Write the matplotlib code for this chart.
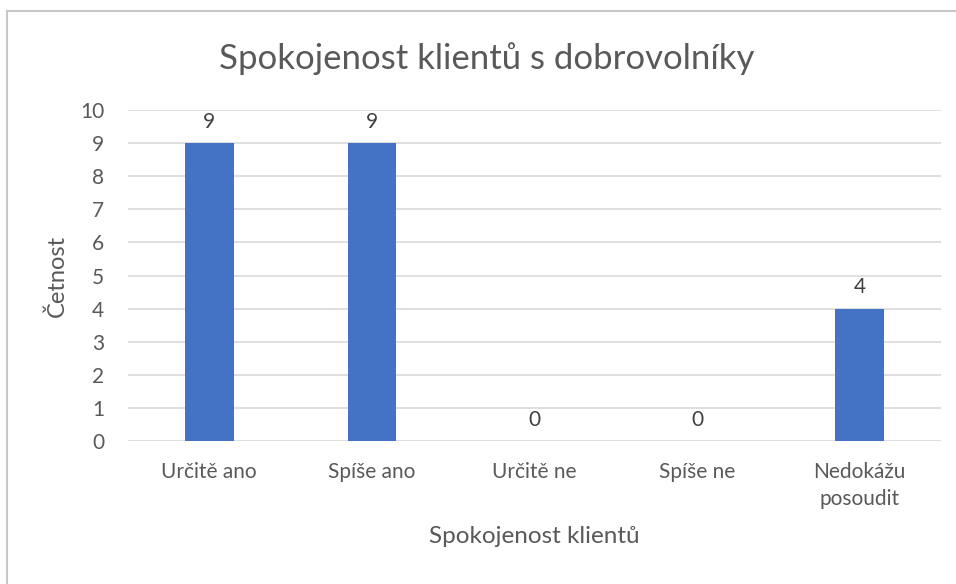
import matplotlib.pyplot as plt

# data
categories = ["Určitě ano", "Spíše ano", "Určitě ne", "Spíše ne", "Nedokážu\nposoudit"]
counts = [9, 9, 0, 0, 4]
y_ticks = list(range(0, 11))

bar_color = "#4472C4"
text_color = "#595959"
grid_color = "#D9D9D9"

plt.rcParams["font.family"] = ["Lato", "DejaVu Sans"]

fig = plt.figure(figsize=(9.56, 5.84), dpi=100)
ax = fig.add_axes([0.1339, 0.2449, 0.8504, 0.5667])

# outer chart frame (only top and left visible in the screenshot)
fig.add_artist(plt.Line2D([0.0075, 1.0], [0.981, 0.981], transform=fig.transFigure,
                          color="#C8C8C8", linewidth=1.5))
fig.add_artist(plt.Line2D([0.0075, 0.0075], [0.0, 0.981], transform=fig.transFigure,
                          color="#C8C8C8", linewidth=1.5))

x = list(range(len(categories)))
ax.bar(x, counts, width=0.30, color=bar_color, zorder=3)

for xi, v in zip(x, counts):
    ax.annotate(str(v), (xi, v), xytext=(0, 8), textcoords="offset points",
                ha="center", va="bottom", fontsize=15, color="#404040")

ax.set_xlim(-0.5, len(categories) - 0.5)
ax.set_ylim(0, 10)
ax.set_yticks(y_ticks)
ax.set_xticks(x)
ax.set_xticklabels(categories, fontsize=15, color=text_color, linespacing=1.45)
ax.tick_params(axis="y", labelsize=15, labelcolor=text_color, length=0, pad=17)
ax.tick_params(axis="x", length=0, pad=15)
ax.grid(axis="y", color=grid_color, linewidth=1.2, zorder=0)
for s in ax.spines.values():
    s.set_visible(False)

ax.set_xlabel("Spokojenost klientů", fontsize=17.5, color=text_color, labelpad=12)
ax.set_ylabel("Četnost", fontsize=17, color=text_color, labelpad=9)
fig.text(0.509, 0.90, "Spokojenost klientů s dobrovolníky", ha="center", va="center",
         fontsize=25, color=text_color)

fig.savefig("out.png", dpi=100)
